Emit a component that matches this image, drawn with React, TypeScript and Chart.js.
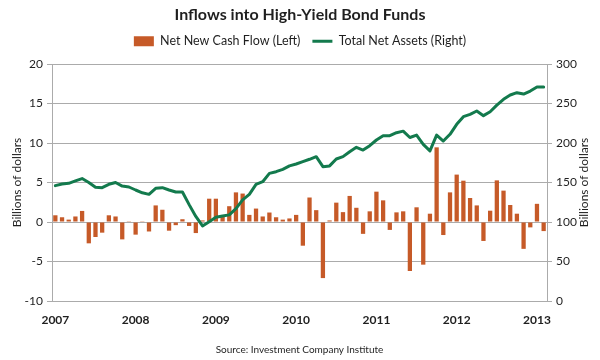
import { useEffect, useRef } from 'react';
import { Chart, registerables } from 'chart.js';

Chart.register(...registerables);

const years = ['2007', '2008', '2009', '2010', '2011', '2012', '2013'];
const monthCodes = ['01', '02', '03', '04', '05', '06', '07', '08', '09', '10', '11', '12'];
// Monthly categories, Jan 2007 .. Feb 2013
const categories = years.flatMap((y) => monthCodes.map((m) => `${y}-${m}`)).slice(0, 74);

// Net new cash flow, billions of dollars (left axis)
const netNewCashFlow = [
  0.85, 0.6, 0.3, 0.7, 1.4, -2.7, -1.9, -1.35, 0.85, 0.7, -2.2, 0.1,
  -1.6, 0.1, -1.2, 2.1, 1.55, -1.1, -0.4, 0.35, -0.5, -1.4, 0.2, 2.95,
  2.95, 0.8, 2.0, 3.75, 3.6, 0.9, 1.7, 0.7, 1.2, 0.6, 0.3, 0.45,
  0.9, -3.0, 3.1, 1.5, -7.1, 0.2, 2.45, 1.25, 3.3, 1.8, -1.5, 1.35,
  3.84, 2.74, -1.0, 1.22, 1.35, -6.2, 1.86, -5.4, 1.05, 9.45, -1.65, 3.75,
  6.0, 5.23, 3.04, 2.1, -2.4, 1.43, 5.27, 3.97, 2.15, 1.05, -3.4, -0.68,
  2.3, -1.15,
];

// Total net assets, billions of dollars (right axis)
const totalNetAssets = [
  146, 148, 149, 152, 155, 150, 144, 143.5, 147.7, 150, 145.5, 144.3,
  140.5, 137, 135, 142.6, 143.5, 140.5, 138, 138, 122, 107, 95, 100.4,
  106, 107.6, 109, 117, 128, 135, 147.7, 151, 161.6, 163.7, 166.7, 171,
  173.4, 176.4, 179.4, 182.7, 170, 171, 179.7, 182.7, 189, 194.5, 191, 196.6,
  203.8, 209.2, 209.2, 213, 215, 207, 210, 198.3, 190, 210, 202.5, 211,
  223.6, 233.3, 236.3, 240.5, 234.6, 239.6, 248, 255.3, 260.8, 263.7, 262, 265.8,
  270.9, 270.9,
];

const leftTicks = { min: -10, max: 20, step: 5 };
const rightTicks = { min: 0, max: 300, step: 50 };

const FONT = 'Lato, "Open Sans", sans-serif';
const TEXT = '#1f1f1f';
const GRID = '#ababab';
const ORANGE = '#c65a28';
const GREEN = '#137a4d';

export default function App() {
  const ref = useRef<HTMLCanvasElement>(null);

  useEffect(() => {
    const canvas = ref.current;
    if (!canvas) return;

    const rightTitle = {
      id: 'rightTitle',
      afterDraw(chart: any) {
        const { ctx, chartArea } = chart;
        ctx.save();
        ctx.font = `12px ${FONT}`;
        ctx.fillStyle = TEXT;
        ctx.textAlign = 'center';
        ctx.textBaseline = 'middle';
        ctx.translate(584, (chartArea.top + chartArea.bottom) / 2);
        ctx.rotate(-Math.PI / 2);
        ctx.fillText('Billions of dollars', 0, 0);
        ctx.restore();
      },
    };

    const chart = new Chart(canvas, {
      type: 'bar',
      data: {
        labels: categories,
        datasets: [
          {
            type: 'bar',
            label: 'Net New Cash Flow (Left)',
            data: netNewCashFlow,
            backgroundColor: ORANGE,
            borderWidth: 0,
            yAxisID: 'y',
            order: 1,
            barPercentage: 0.64,
            categoryPercentage: 1,
            pointStyle: 'rect',
          } as any,
          {
            type: 'line',
            label: 'Total Net Assets (Right)',
            data: totalNetAssets,
            borderColor: GREEN,
            backgroundColor: GREEN,
            borderWidth: 3,
            pointRadius: 0,
            pointHoverRadius: 0,
            pointBorderWidth: 3,
            pointBorderColor: GREEN,
            pointBackgroundColor: GREEN,
            pointStyle: 'line',
            tension: 0,
            borderJoinStyle: 'round',
            borderCapStyle: 'round',
            yAxisID: 'y1',
            order: 0,
          } as any,
        ],
      },
      options: {
        responsive: false,
        animation: false,
        layout: { padding: 0 },
        plugins: {
          title: {
            display: true,
            text: 'Inflows into High-Yield Bond Funds',
            color: TEXT,
            font: { family: FONT, size: 16, weight: 'bold' },
            padding: { top: 5.5, bottom: -1.7 },
          },
          subtitle: {
            display: true,
            text: ' ',
            position: 'top',
            weight: 500,
            font: { family: FONT, size: 6.5, lineHeight: 1 },
            padding: 0,
          } as any,
          legend: {
            position: 'top',
            labels: {
              usePointStyle: true,
              pointStyleWidth: 20,
              boxHeight: 10,
              padding: 12,
              color: TEXT,
              font: { family: FONT, size: 12.5 },
              sort: (a: any, b: any) => a.datasetIndex - b.datasetIndex,
            },
          },
          tooltip: { enabled: false },
        },
        scales: {
          x: {
            grid: { display: false, drawTicks: false },
            border: { display: true, color: GRID },
            ticks: {
              autoSkip: false,
              maxRotation: 0,
              minRotation: 0,
              padding: 12,
              color: TEXT,
              font: { family: FONT, size: 12, weight: 'bold' },
              callback: (_v: any, i: number) =>
                categories[i].endsWith('-01') ? categories[i].slice(0, 4) : '',
            },
            title: {
              display: true,
              text: 'Source: Investment Company Institute',
              color: TEXT,
              font: { family: FONT, size: 10 },
              padding: { top: 0, bottom: 4 },
            },
            afterFit: (s: any) => {
              s.height = 59;
            },
          },
          y: {
            position: 'left',
            min: leftTicks.min,
            max: leftTicks.max,
            ticks: {
              stepSize: leftTicks.step,
              padding: 4,
              color: TEXT,
              font: { family: FONT, size: 12 },
            },
            grid: { color: GRID, tickLength: 5 },
            border: { display: true, color: GRID },
            title: {
              display: true,
              text: 'Billions of dollars',
              color: TEXT,
              font: { family: FONT, size: 12 },
              padding: { top: 10, bottom: 0 },
            },
            afterFit: (s: any) => {
              s.width = 52;
            },
          },
          y1: {
            position: 'right',
            min: rightTicks.min,
            max: rightTicks.max,
            ticks: {
              stepSize: rightTicks.step,
              padding: 4,
              color: TEXT,
              font: { family: FONT, size: 12 },
            },
            grid: { drawOnChartArea: false, color: GRID, tickLength: 5 },
            border: { display: true, color: GRID },
            afterFit: (s: any) => {
              s.width = 53;
            },
          },
        },
      } as any,
      plugins: [rightTitle],
    });

    return () => chart.destroy();
  }, []);

  return (
    <div style={{ position: 'absolute', left: 0, top: 0, width: 600, height: 360, background: '#fff' }}>
      <canvas ref={ref} width={600} height={360} style={{ display: 'block' }} />
    </div>
  );
}
